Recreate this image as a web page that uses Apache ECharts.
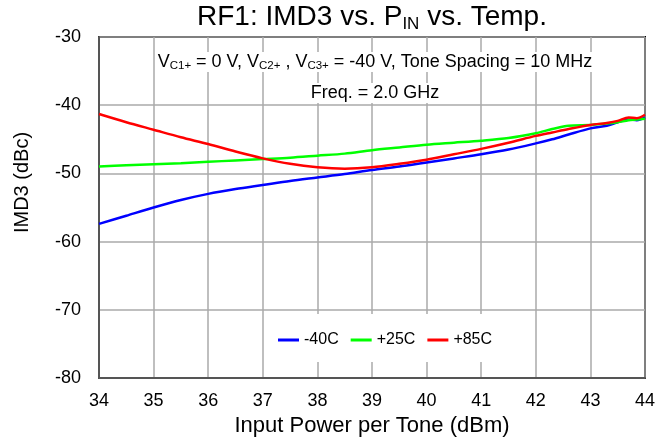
<!DOCTYPE html>
<html>
<head>
<meta charset="utf-8">
<script src="https://cdn.jsdelivr.net/npm/echarts@6/dist/echarts.min.js"></script>
<style>
  html, body { margin: 0; padding: 0; background: #fff; }
  #imd3 { width: 659px; height: 442px; }
</style>
</head>
<body>
<div id="imd3"></div>
<script>
// input power per tone (dBm)
var pin = [34, 34.5, 35, 35.5, 36, 36.5, 37, 37.5, 38, 38.5, 39, 39.5, 40, 40.5, 41, 41.5, 42, 42.3, 42.6, 43, 43.3, 43.5, 43.7, 43.85, 44];
// IMD3 (dBc) per temperature
var imdM40 = [-57.4, -56.2, -55.0, -53.9, -53.0, -52.3, -51.7, -51.1, -50.6, -50.1, -49.5, -49.0, -48.4, -47.8, -47.2, -46.5, -45.6, -45.0, -44.3, -43.4, -43.0, -42.5, -42.1, -42.2, -41.8];
var imd25 = [-49.0, -48.8, -48.65, -48.5, -48.3, -48.1, -47.9, -47.7, -47.4, -47.1, -46.6, -46.2, -45.8, -45.5, -45.2, -44.8, -44.1, -43.5, -43.0, -42.9, -42.7, -42.5, -42.2, -42.1, -42.0];
var imd85 = [-41.3, -42.5, -43.6, -44.7, -45.7, -46.8, -47.8, -48.6, -49.1, -49.3, -49.1, -48.6, -48.0, -47.2, -46.4, -45.5, -44.5, -44.0, -43.5, -42.9, -42.6, -42.3, -41.8, -41.9, -41.4];
var seriesNames = ['-40C', '+25C', '+85C'];
var xTicks = {min: 34, max: 44, step: 1};
var yTicks = {min: -80, max: -30, step: 10};

function pairs(xs, ys) {
  var out = [];
  for (var i = 0; i < xs.length; i++) out.push([xs[i], ys[i]]);
  return out;
}

var font = "'Liberation Sans', Arial, sans-serif";
var chart = echarts.init(document.getElementById('imd3'));

chart.setOption({
  animation: false,
  textStyle: { fontFamily: font, color: '#000' },
  title: [
    {
      text: 'RF1: IMD3 vs. P{sub|IN} vs. Temp.',
      left: 372, top: 2, textAlign: 'center', padding: 0,
      textStyle: {
        fontFamily: font, fontSize: 28, fontWeight: 'normal', color: '#000', lineHeight: 31,
        rich: { sub: { fontFamily: font, fontSize: 17, color: '#000', verticalAlign: 'bottom', lineHeight: 17 } }
      }
    },
    {
      text: 'V{s|C1+} = 0 V, V{s|C2+} , V{s|C3+} = -40 V, Tone Spacing = 10 MHz',
      left: 373, top: 52, textAlign: 'center', padding: [0, 2],
      backgroundColor: '#fff',
      textStyle: {
        fontFamily: font, fontSize: 18, fontWeight: 'normal', color: '#000', lineHeight: 20,
        rich: { s: { fontFamily: font, fontSize: 11.5, color: '#000', verticalAlign: 'bottom', lineHeight: 11 } }
      }
    },
    {
      text: 'Freq. = 2.0 GHz',
      left: 373, top: 83, textAlign: 'center', padding: [0, 2],
      backgroundColor: '#fff',
      textStyle: { fontFamily: font, fontSize: 18, fontWeight: 'normal', color: '#000', lineHeight: 20 }
    }
  ],
  legend: {
    data: seriesNames,
    left: 264, top: 314,
    padding: [18, 14, 14, 14],
    backgroundColor: '#fff',
    icon: 'rect', itemWidth: 21, itemHeight: 3, itemGap: 12,
    textStyle: { fontFamily: font, fontSize: 16, color: '#000' }
  },
  grid: {
    left: 99, right: 14, top: 37, bottom: 64,
    show: true, borderColor: '#000', borderWidth: 2
  },
  xAxis: {
    type: 'value', min: xTicks.min, max: xTicks.max, interval: xTicks.step,
    name: 'Input Power per Tone (dBm)', nameLocation: 'middle', nameGap: 36,
    nameTextStyle: { fontFamily: font, fontSize: 22, color: '#000' },
    axisLine: { show: true, lineStyle: { color: '#555', width: 2 } },
    axisTick: { show: false },
    axisLabel: { fontFamily: font, fontSize: 18, color: '#000', margin: 14 },
    splitLine: { show: true, lineStyle: { color: '#aaa', width: 1.5 } }
  },
  yAxis: {
    type: 'value', min: yTicks.min, max: yTicks.max, interval: yTicks.step,
    name: 'IMD3 (dBc)', nameLocation: 'middle', nameGap: 67,
    nameTextStyle: { fontFamily: font, fontSize: 20, color: '#000', padding: [0, 0, 0, 50] },
    axisLine: { show: true, lineStyle: { color: '#555', width: 2 } },
    axisTick: { show: false },
    axisLabel: { fontFamily: font, fontSize: 18, color: '#000', margin: 18 },
    splitLine: { show: true, lineStyle: { color: '#aaa', width: 1.5 } }
  },
  series: [
    { name: seriesNames[0], type: 'line', data: pairs(pin, imdM40), smooth: 0.3, showSymbol: false, symbol: 'none', lineStyle: { color: '#0000ff', width: 2.5 }, itemStyle: { color: '#0000ff' } },
    { name: seriesNames[1], type: 'line', data: pairs(pin, imd25), smooth: 0.3, showSymbol: false, symbol: 'none', lineStyle: { color: '#00ff00', width: 2.5 }, itemStyle: { color: '#00ff00' } },
    { name: seriesNames[2], type: 'line', data: pairs(pin, imd85), smooth: 0.3, showSymbol: false, symbol: 'none', lineStyle: { color: '#ff0000', width: 2.5 }, itemStyle: { color: '#ff0000' } }
  ]
});
</script>
</body>
</html>
